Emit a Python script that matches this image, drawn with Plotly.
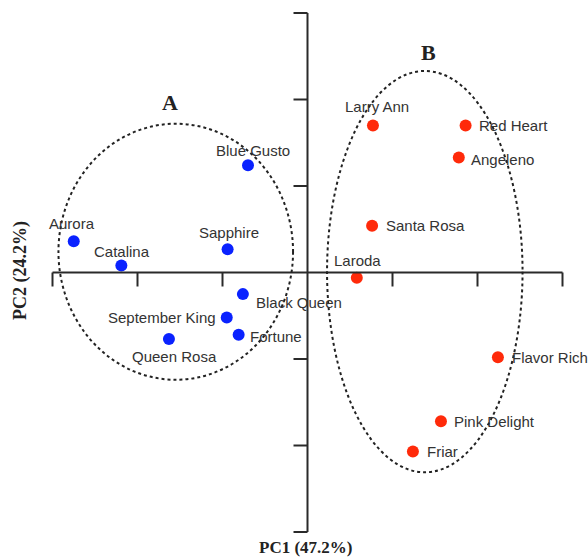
import plotly.graph_objects as go

# ---- data (PC scores) ----
group_a_names = ["Blue Gusto", "Aurora", "Catalina", "Sapphire", "Black Queen",
                 "September King", "Fortune", "Queen Rosa"]
group_a_pc1 = [-0.70, -2.75, -2.19, -0.94, -0.76, -0.95, -0.81, -1.63]
group_a_pc2 = [1.24, 0.36, 0.08, 0.27, -0.25, -0.52, -0.72, -0.77]

group_b_names = ["Larry Ann", "Red Heart", "Angeleno", "Santa Rosa", "Laroda",
                 "Flavor Rich", "Pink Delight", "Friar"]
group_b_pc1 = [0.77, 1.86, 1.78, 0.76, 0.58, 2.24, 1.57, 1.24]
group_b_pc2 = [1.70, 1.70, 1.33, 0.54, -0.06, -0.98, -1.72, -2.07]

tick_values = [-3, -2, -1, 1, 2, 3]
axis_min, axis_max = -3, 3

# ellipse (cluster) definitions: center x, center y, radius x, radius y
cluster_labels = ["A", "B"]
cluster_cx = [-1.55, 1.38]
cluster_cy = [0.24, 0.01]
cluster_rx = [1.38, 1.15]
cluster_ry = [1.48, 2.32]
cluster_label_x = [-1.62, 1.42]
cluster_label_y = [1.97, 2.54]

x_title = "PC1 (47.2%)"
y_title = "PC2 (24.2%)"

# ---- styles ----
BLUE = "#0a22ff"
RED = "#ff2a0a"
AXIS = "#2a2a2a"
TXT = "#333333"
label_font = dict(family="Liberation Sans, Arial, sans-serif", size=15, color=TXT)
SERIF = "Liberation Serif, Times New Roman, serif"

OFF = 0
W, H = 588, 559
ORIGIN_X, ORIGIN_Y = 307.5, 272.5   # screen pixels of (0, 0)
UX, UY = 85.0, 86.5                  # pixels per unit

# label placement (pixel offsets relative to the point)
a_place = [("center", 5, -15), ("center", -2, -18), ("center", 1, -14), ("center", 1, -17),
           ("left", 11, 8), ("right", -9, 0), ("left", 9, 2), ("center", 6, 17)]
b_place = [("center", 4, -19), ("left", 11, 0), ("left", 10, 2), ("left", 12, 0),
           ("center", 1, -17), ("left", 12, 0), ("left", 11, 0), ("left", 12, 0)]

fig = go.Figure()

shapes = []
shapes.append(dict(type="line", x0=axis_min, x1=axis_max, y0=0, y1=0,
                   line=dict(color=AXIS, width=2)))
shapes.append(dict(type="line", x0=0, x1=0, y0=axis_min, y1=axis_max,
                   line=dict(color=AXIS, width=2)))
TICK_PX = 14
for t in tick_values:
    shapes.append(dict(type="line", xref="x", yref="y", x0=t, x1=t,
                       y0=0, y1=-TICK_PX / UY, line=dict(color=AXIS, width=2)))
    shapes.append(dict(type="line", xref="x", yref="y", x0=0, x1=-TICK_PX / UX,
                       y0=t, y1=t, line=dict(color=AXIS, width=2)))

for cx, cy, rx, ry in zip(cluster_cx, cluster_cy, cluster_rx, cluster_ry):
    shapes.append(dict(type="circle", x0=cx - rx, x1=cx + rx, y0=cy - ry, y1=cy + ry,
                       line=dict(color="#222222", width=2, dash="3px,3px")))

fig.add_trace(go.Scatter(x=group_a_pc1, y=group_a_pc2, mode="markers",
                         marker=dict(color=BLUE, size=12), hoverinfo="text",
                         text=group_a_names, showlegend=False))
fig.add_trace(go.Scatter(x=group_b_pc1, y=group_b_pc2, mode="markers",
                         marker=dict(color=RED, size=12), hoverinfo="text",
                         text=group_b_names, showlegend=False))

annotations = []
for names, xs, ys, places in [(group_a_names, group_a_pc1, group_a_pc2, a_place),
                              (group_b_names, group_b_pc1, group_b_pc2, b_place)]:
    for n, x, y, (anc, dx, dy) in zip(names, xs, ys, places):
        annotations.append(dict(x=x, y=y, text=n, showarrow=False, xanchor=anc,
                                yanchor="middle", xshift=dx, yshift=-dy, font=label_font))

for lab, lx, ly in zip(cluster_labels, cluster_label_x, cluster_label_y):
    annotations.append(dict(x=lx, y=ly, text="<b>%s</b>" % lab, showarrow=False,
                            font=dict(family=SERIF, size=22, color="#222222")))


def px_x(sx):
    return (sx - OFF) / W


def px_y(sy):
    return 1 - (sy - OFF) / H


annotations.append(dict(x=px_x(305), y=px_y(547), xref="paper", yref="paper",
                        xanchor="center", yanchor="middle",
                        text="<b>%s</b>" % x_title, showarrow=False,
                        font=dict(family=SERIF, size=17, color="#222222")))
annotations.append(dict(x=px_x(20), y=px_y(271), xref="paper", yref="paper",
                        xanchor="center", yanchor="middle",
                        text="<b>%s</b>" % y_title, showarrow=False, textangle=-90,
                        font=dict(family=SERIF, size=18, color="#222222")))

fig.update_layout(
    width=W, height=H,
    margin=dict(l=0, r=0, t=0, b=0),
    paper_bgcolor="white", plot_bgcolor="white",
    xaxis=dict(range=[(OFF - ORIGIN_X) / UX, (OFF + W - ORIGIN_X) / UX],
               visible=False, fixedrange=True),
    yaxis=dict(range=[-(OFF + H - ORIGIN_Y) / UY, (ORIGIN_Y - OFF) / UY],
               visible=False, fixedrange=True),
    shapes=shapes, annotations=annotations,
    showlegend=False,
)

fig.write_html("out.html",
               config={"displayModeBar": False},
               post_script="document.body.style.margin='0';"
                           "document.body.style.overflow='hidden';")
